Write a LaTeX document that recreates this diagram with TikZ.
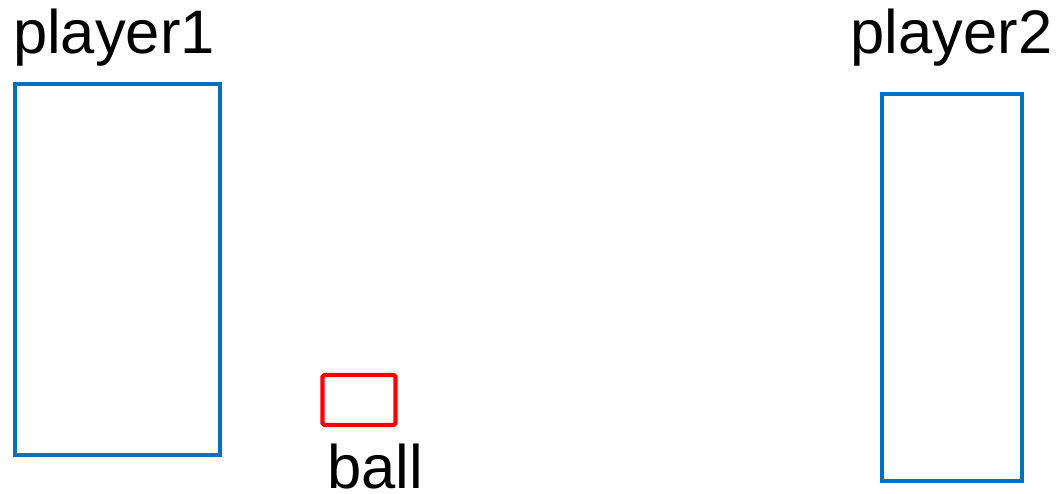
\documentclass[tikz,border=0pt]{standalone}
\usepackage{fontspec}
\setmainfont{Liberation Sans}
\usetikzlibrary{positioning}
\definecolor{padblue}{RGB}{0,112,192}
\tikzset{
  padbox/.style={draw=padblue, line width=1.2pt, inner sep=0pt, minimum width=#1},
  ballbox/.style={draw=red, line width=1.2pt, inner sep=0pt, rounded corners=0.5pt,
    minimum width=7.3mm, minimum height=5mm},
  lab/.style={font=\fontsize{17.5}{20}\selectfont, inner sep=0pt, anchor=base},
}
\begin{document}
\begin{tikzpicture}
  \useasboundingbox (0,0) rectangle (10.59,4.93);
  % players
  \node[padbox=20.5mm, minimum height=37.1mm] (p1) at (1.175,2.235) {};
  \node[padbox=14mm, minimum height=38.7mm] (p2) at (9.52,2.055) {};
  \node[lab] (p1lab) at (1.14,4.40) {player1};
  \node[lab] (p2lab) at (9.515,4.40) {player2};
  % ball
  \node[ballbox] (ball) at (3.59,0.93) {};
  \node[lab] (balllab) at (3.75,0.05) {ball};
\end{tikzpicture}
\end{document}
